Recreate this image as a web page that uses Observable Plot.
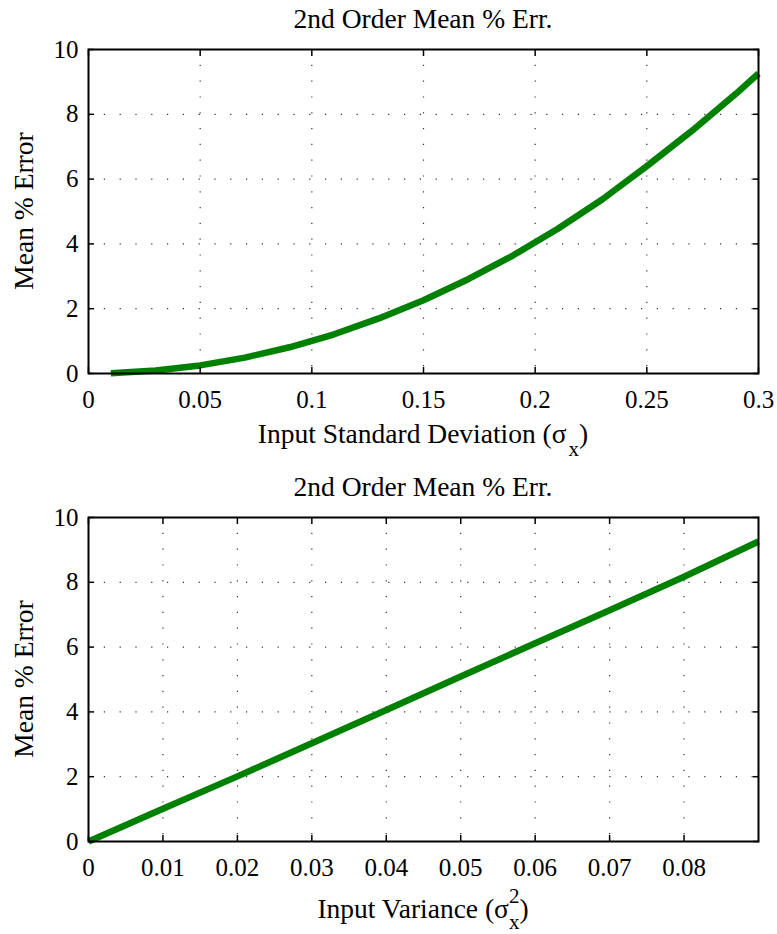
<!DOCTYPE html>
<html>
<head>
<meta charset="utf-8">
<script src="https://cdn.jsdelivr.net/npm/d3@7"></script>
<script src="https://cdn.jsdelivr.net/npm/@observablehq/plot@0.6"></script>
<style>
  html, body { margin: 0; padding: 0; background: #fff; }
  #chart svg { display: block; }
  #chart svg text { font-family: "Liberation Serif", "Times New Roman", serif !important; }
</style>
</head>
<body>
<div id="chart"></div>
<script>
// ---- Data ----
const sigma     = [0.01, 0.03, 0.05, 0.07, 0.09, 0.11, 0.13, 0.15, 0.17, 0.19, 0.21, 0.23, 0.25, 0.27, 0.29, 0.30];
const errSigma  = [0.01, 0.09, 0.25, 0.49, 0.81, 1.21, 1.70, 2.26, 2.91, 3.64, 4.46, 5.37, 6.40, 7.48, 8.64, 9.26];
const variance  = [0, 0.01, 0.02, 0.03, 0.04, 0.05, 0.06, 0.07, 0.08, 0.09];
const errVar    = [0, 1.01, 2.01, 3.03, 4.06, 5.09, 6.12, 7.14, 8.17, 9.26];

const xTicksTop    = [0, 0.05, 0.1, 0.15, 0.2, 0.25, 0.3];
const xTicksBottom = [0, 0.01, 0.02, 0.03, 0.04, 0.05, 0.06, 0.07, 0.08];
const yTicks       = [0, 2, 4, 6, 8, 10];
const yGrid        = [2, 4, 6, 8];

const titleText = "2nd Order Mean % Err.";
const yLabelText = "Mean % Error";

const FONT = '"Liberation Serif", "Times New Roman", serif';
const GREEN = "#008000";

function panel({xDomain, xTicks, xGrid, rows, marginTop, marginBottom}) {
  return Plot.plot({
    width: 777,
    height: 467,
    marginLeft: 88,
    marginRight: 19,
    marginTop,
    marginBottom,
    style: { fontFamily: FONT, background: "#fff", color: "#000" },
    x: { domain: xDomain, axis: null, label: null },
    y: { domain: [0, 10], axis: null, label: null },
    marks: [
      Plot.gridX(xGrid, { stroke: "#333", strokeOpacity: 1, strokeWidth: 1.2, strokeDasharray: "1.2,14.6" }),
      Plot.gridY(yGrid, { stroke: "#333", strokeOpacity: 1, strokeWidth: 1.2, strokeDasharray: "1.2,14.6" }),
      Plot.line(rows, { x: "x", y: "y", stroke: GREEN, strokeWidth: 6.5, strokeLinecap: "butt", strokeLinejoin: "round" }),
      Plot.frame({ stroke: "#000", strokeWidth: 2 }),
      // inward ticks on all four sides
      Plot.axisX(xTicks, { anchor: "bottom", tickSize: -6, strokeWidth: 1.5, fill: "none", tickFormat: () => "", label: null }),
      Plot.axisX(xTicks, { anchor: "top", tickSize: -6, strokeWidth: 1.5, fill: "none", tickFormat: () => "", label: null }),
      Plot.axisY(yTicks, { anchor: "left", tickSize: -6, strokeWidth: 1.5, fill: "none", tickFormat: () => "", label: null }),
      Plot.axisY(yTicks, { anchor: "right", tickSize: -6, strokeWidth: 1.5, fill: "none", tickFormat: () => "", label: null }),
      // tick labels
      Plot.axisX(xTicks, { anchor: "bottom", tickSize: 0, tickPadding: 17, fontSize: 25, tickFormat: d => String(d), label: null, fill: "#000" }),
      Plot.axisY(yTicks, { anchor: "left", tickSize: 0, tickPadding: 10, fontSize: 25, tickFormat: d => String(d), label: null, fill: "#000" })
    ]
  });
}

const topRows = sigma.map((s, i) => ({ x: s, y: errSigma[i] }));
const botRows = variance.map((v, i) => ({ x: v, y: errVar[i] }));

const topSvg = panel({
  xDomain: [0, 0.3], xTicks: xTicksTop, xGrid: xTicksTop.slice(1, -1),
  rows: topRows, marginTop: 49, marginBottom: 94
});
const botSvg = panel({
  xDomain: [0, 0.09], xTicks: xTicksBottom, xGrid: xTicksBottom.slice(1),
  rows: botRows, marginTop: 50, marginBottom: 93
});

function addText(svg, {x, y, size, rotate = 0, parts}) {
  const t = d3.select(svg).append("text")
    .attr("text-anchor", "middle")
    .style("font-family", FONT)
    .attr("font-size", size)
    .attr("fill", "#000")
    .attr("transform", `translate(${x},${y}) rotate(${rotate})`);
  for (const p of parts) {
    const s = t.append("tspan").text(p.text);
    if (p.size) s.attr("font-size", p.size);
    if (p.dy) s.attr("dy", p.dy);
    if (p.dx) s.attr("dx", p.dx);
  }
  return t;
}

// Top panel texts
addText(topSvg, { x: 423, y: 28, size: 27.5, parts: [{ text: titleText }] });
addText(topSvg, { x: 33, y: 211, size: 27.5, rotate: -90, parts: [{ text: yLabelText }] });
addText(topSvg, { x: 423, y: 443, size: 27.5, parts: [
  { text: "Input Standard Deviation (\u03C3" },
  { text: "x", size: 21, dy: 13, dx: 2 },
  { text: ")", dy: -13 }
]});

// Bottom panel texts
addText(botSvg, { x: 423, y: 29, size: 27.5, parts: [{ text: titleText }] });
addText(botSvg, { x: 33, y: 212, size: 27.5, rotate: -90, parts: [{ text: yLabelText }] });
addText(botSvg, { x: 423, y: 451, size: 27.5, parts: [
  { text: "Input Variance (\u03C3" },
  { text: "2", size: 21, dy: -15 },
  { text: "x", size: 21, dx: -10.5, dy: 26 },
  { text: ")", dy: -11 }
]});

const chart = document.getElementById("chart");
chart.appendChild(topSvg);
chart.appendChild(botSvg);
</script>
</body>
</html>
